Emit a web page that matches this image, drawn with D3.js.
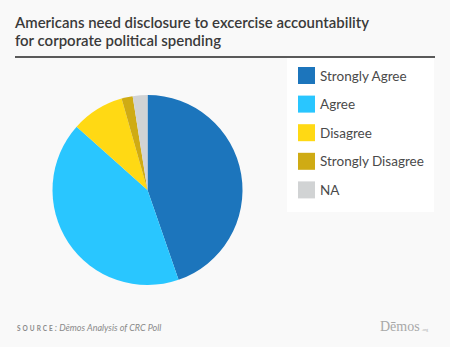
<!DOCTYPE html>
<html><head><meta charset="utf-8">
<script src="https://cdn.jsdelivr.net/npm/d3@7"></script>
<style>
html,body{margin:0;padding:0;background:#f9f9f9;}
svg{display:block;}
</style></head>
<body>
<script>
const categories = ["Strongly Agree","Agree","Disagree","Strongly Disagree","NA"];
const values = [44.7, 41.9, 9.0, 1.9, 2.5];
const colors = ["#1c75bc","#29c6ff","#ffd914","#cfab14","#d1d3d4"];
const titleLines = ["Americans need disclosure to excercise accountability","for corporate political spending"];

const W = 450, H = 347;
const svg = d3.select("body").append("svg").attr("width", W).attr("height", H);
svg.append("rect").attr("width", W).attr("height", H).attr("fill", "#f9f9f9");

// title
const tfont = "Lato, 'Open Sans', sans-serif";
svg.append("text").attr("x", 15).attr("y", 28).attr("font-family", tfont)
  .attr("font-size", 15).attr("font-weight", 600).attr("fill", "#3a3a3a")
  .attr("textLength", 354).attr("lengthAdjust", "spacingAndGlyphs").text(titleLines[0]);
svg.append("text").attr("x", 15).attr("y", 46).attr("font-family", tfont)
  .attr("font-size", 15).attr("font-weight", 600).attr("fill", "#3a3a3a")
  .attr("textLength", 206).attr("lengthAdjust", "spacingAndGlyphs").text(titleLines[1]);
svg.append("rect").attr("x", 15).attr("y", 56).attr("width", 420).attr("height", 2).attr("fill", "#5a5a5a");

// pie
const pie = d3.pie().sort(null).value(d => d)(values);
const arc = d3.arc().innerRadius(0).outerRadius(95);
const g = svg.append("g").attr("transform", "translate(147.5,190)");
g.selectAll("path").data(pie).enter().append("path")
  .attr("d", arc).attr("fill", (d, i) => colors[i]);

// legend
const lg = svg.append("g");
lg.append("rect").attr("x", 287).attr("y", 58).attr("width", 147).attr("height", 154).attr("fill", "#ffffff");
const y = d3.scaleBand().domain(categories).range([62, 205]);
const items = lg.selectAll("g.item").data(categories).enter().append("g")
  .attr("transform", d => `translate(298,${y(d) + 5})`);
items.append("rect").attr("width", 17).attr("height", 17)
  .attr("fill", (d, i) => colors[i]);
items.append("text").attr("x", 22).attr("y", 13.5)
  .attr("font-family", tfont).attr("font-size", 13.5).attr("fill", "#4a4a4a").text(d => d);

// source
const src = svg.append("text").attr("x", 17).attr("y", 331).attr("font-family", tfont).attr("fill", "#8a8a8a");
src.append("tspan").attr("font-size", 6.5).attr("font-weight", 700).attr("letter-spacing", 2).text("SOURCE");
src.append("tspan").attr("font-size", 9).attr("font-style", "italic").text(": Dēmos Analysis of CRC Poll");

// logo
const logo = svg.append("text").attr("x", 380).attr("y", 331).attr("fill", "#a8a8a8").attr("font-family", "'Liberation Serif', serif");
logo.append("tspan").attr("font-size", 14).text("Dēmos");
logo.append("tspan").attr("font-size", 4).attr("dx", 2).text(".org");
</script>
</body></html>
